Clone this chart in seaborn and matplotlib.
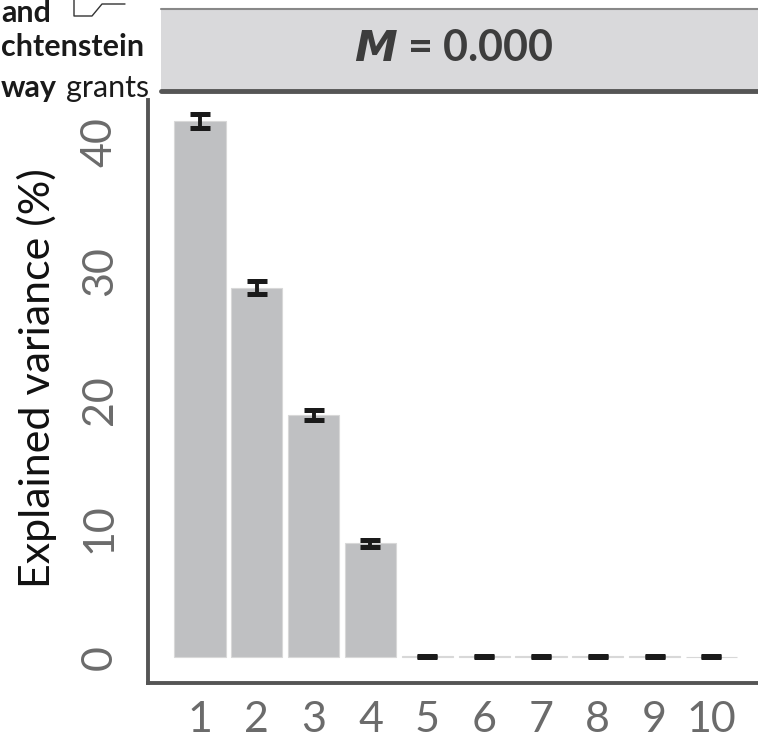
import matplotlib
matplotlib.use("Agg")
import matplotlib.pyplot as plt
import seaborn as sns
import pandas as pd
from matplotlib.patches import Rectangle

components = ["1", "2", "3", "4", "5", "6", "7", "8", "9", "10"]
explained = [41.7, 28.7, 18.8, 8.85, 0.06, 0.06, 0.06, 0.06, 0.06, 0.05]
err = [0.55, 0.5, 0.4, 0.28, 0.03, 0.03, 0.03, 0.03, 0.03, 0.03]
yticks = [0, 10, 20, 30, 40]
strip_label = "$\\boldsymbol{M}$ = 0.000"

sns.set_theme(style="white")
plt.rcParams["font.family"] = ["Lato", "DejaVu Sans"]
plt.rcParams["mathtext.fontset"] = "custom"
plt.rcParams["mathtext.bf"] = "Lato:bold:italic"
plt.rcParams["mathtext.it"] = "Lato:bold:italic"

df = pd.DataFrame({"component": components, "explained": explained, "err": err})

fig = plt.figure(figsize=(7.58, 7.45), dpi=100)
ax = fig.add_axes([148 / 758, 1 - 683 / 745, 1 - 148 / 758, (683 - 100) / 745])

sns.barplot(data=df, x="component", y="explained", color="#bfc0c2", saturation=1,
            width=0.9, errorbar=None, ax=ax, edgecolor="#d8d8d8", linewidth=0.8)
ax.errorbar(range(len(components)), df["explained"], yerr=df["err"], fmt="none",
            ecolor="#1a1a1a", elinewidth=2.8, capsize=7, capthick=3.6, zorder=5)

ax.set_xlim(-0.915, 9.82)
ax.set_ylim(-2.0, 43.3)
ax.set_yticks(yticks)
ax.set_yticklabels([str(t) for t in yticks], rotation=90, va="center")
ax.set_xlabel("")
ax.set_ylabel("Explained variance (%)", fontsize=31, color="#111111")
ax.yaxis.set_label_coords((57 - 148) / 610, (683 - 378) / 583)
ax.tick_params(axis="both", colors="#555555", length=11, width=3.5,
               labelsize=31, labelcolor="#6b6b6b", direction="out")
ax.tick_params(axis="x", pad=2)
ax.tick_params(axis="y", pad=10)
for side in ["top", "right"]:
    ax.spines[side].set_visible(False)
for side in ["left", "bottom"]:
    ax.spines[side].set_color("#555555")
    ax.spines[side].set_linewidth(2.8)

# facet strip
sx0, sx1 = 161 / 758, 1.0
sy0, sy1 = 1 - 91 / 745, 1 - 9 / 745
fig.patches.append(Rectangle((sx0, sy0), sx1 - sx0, sy1 - sy0, transform=fig.transFigure,
                             facecolor="#d9d9db", edgecolor="none", zorder=1))
fig.add_artist(plt.Line2D([sx0, sx1], [sy1, sy1], transform=fig.transFigure,
                          color="#888888", lw=1.5))
fig.add_artist(plt.Line2D([sx0, sx1], [sy0, sy0], transform=fig.transFigure,
                          color="#555555", lw=3.5))
fig.text(454 / 758, (sy0 + sy1) / 2 + 0.003, strip_label, ha="center", va="center",
         fontsize=31, fontweight="bold", color="#3d3d3d")

# logo fragment in the corner
fig.text(1 / 758, 1 - 13 / 745, "and", ha="left", va="center", fontsize=22,
         fontweight="bold", color="#1a1a1a")
fig.text(1 / 758, 1 - 47 / 745, "chtenstein", ha="left", va="center", fontsize=22,
         fontweight="bold", color="#1a1a1a")
fig.text(1 / 758, 1 - 88 / 745, "way", ha="left", va="center", fontsize=22,
         fontweight="bold", color="#1a1a1a")
fig.text(66 / 758, 1 - 88 / 745, "grants", ha="left", va="center", fontsize=22,
         color="#1a1a1a")
fig.add_artist(plt.Line2D([74 / 758, 74 / 758, 92 / 758, 102 / 758, 125 / 758],
                          [1 - 0 / 745, 1 - 16 / 745, 1 - 16 / 745, 1 - 4 / 745, 1 - 4 / 745],
                          transform=fig.transFigure, color="#333333", lw=1))

fig.savefig("out.png", dpi=100)
